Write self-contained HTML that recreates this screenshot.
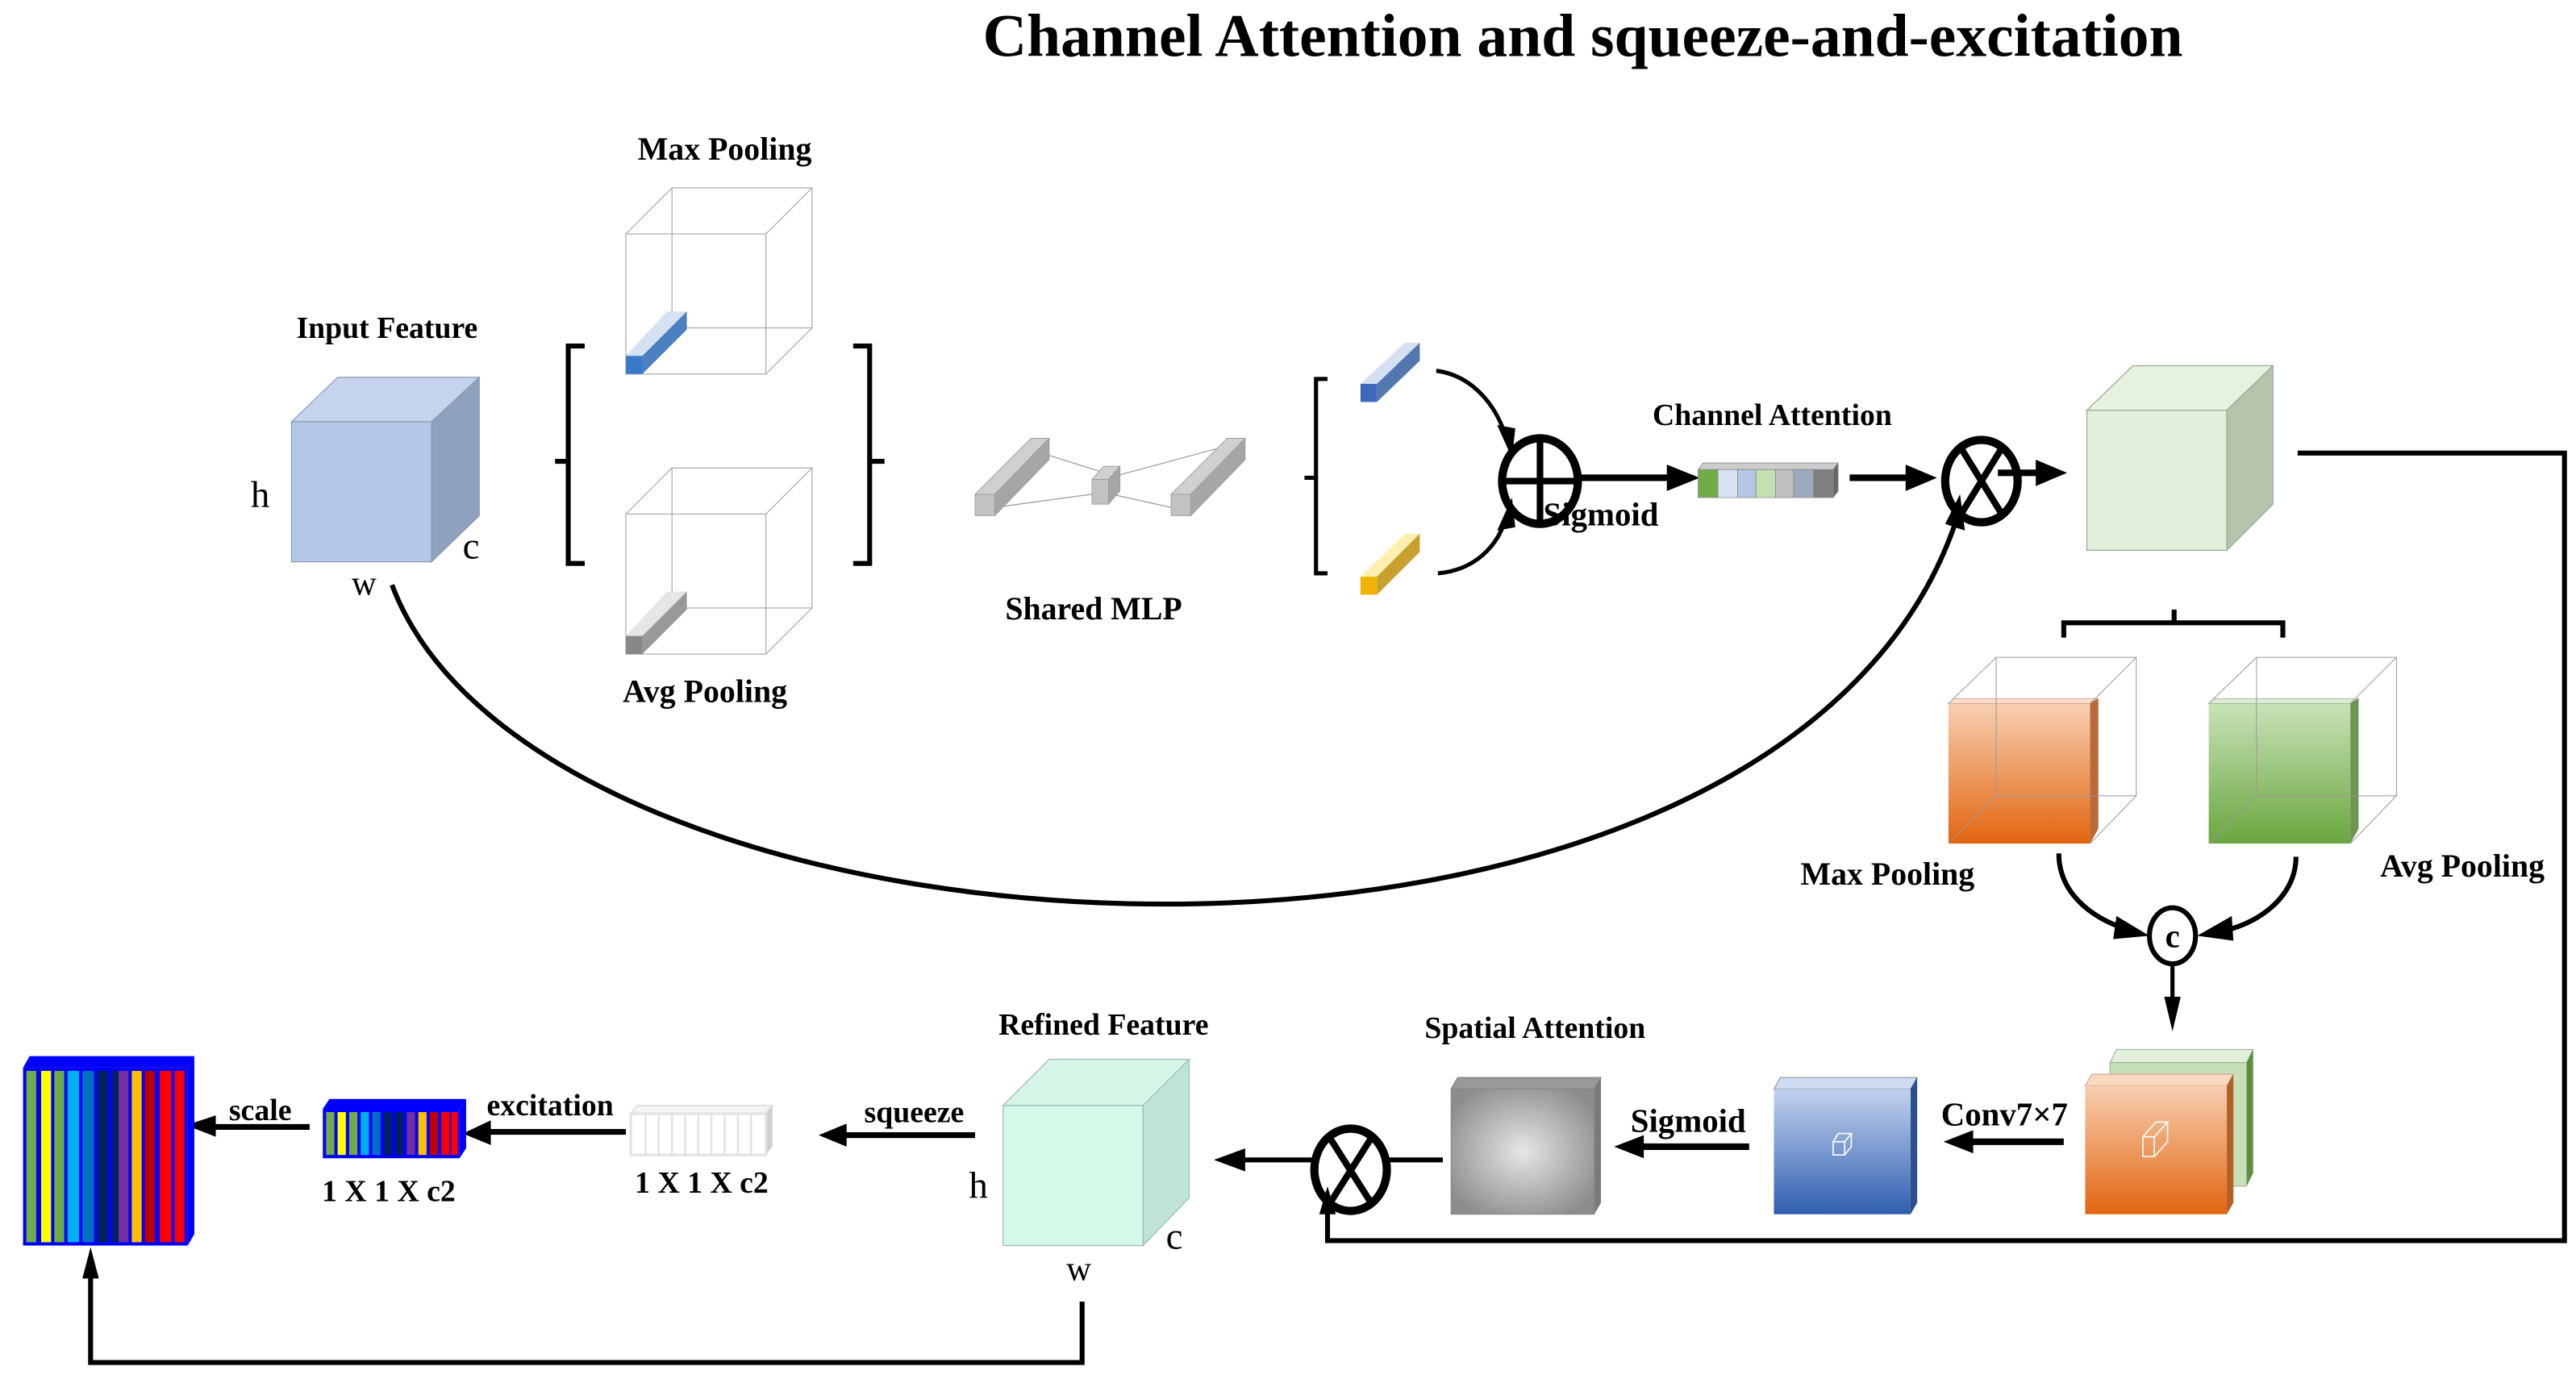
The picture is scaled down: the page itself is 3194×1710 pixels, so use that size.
<!DOCTYPE html>
<html><head><meta charset="utf-8"><style>
html,body{margin:0;padding:0;background:#fff;}
svg{display:block;}
text{font-family:"Liberation Serif",serif;font-weight:bold;fill:#000;}
.n{font-weight:normal;}
</style></head><body>
<svg width="3194" height="1710" viewBox="0 0 1564 837" preserveAspectRatio="none" xmlns="http://www.w3.org/2000/svg">
<defs>
<linearGradient id="gOr" x1="0" y1="0" x2="0" y2="1"><stop offset="0" stop-color="#f8cfb2"/><stop offset="1" stop-color="#e26510"/></linearGradient>
<linearGradient id="gGr" x1="0" y1="0" x2="0" y2="1"><stop offset="0" stop-color="#c9e2b8"/><stop offset="1" stop-color="#6aa63f"/></linearGradient>
<linearGradient id="gBl" x1="0" y1="0" x2="0" y2="1"><stop offset="0" stop-color="#c3d2ee"/><stop offset="1" stop-color="#2f5eb0"/></linearGradient>
<radialGradient id="gGy" cx="0.5" cy="0.5" r="0.6"><stop offset="0" stop-color="#e6e6e6"/><stop offset="1" stop-color="#8c8c8c"/></radialGradient>
</defs>

<text x="961" y="34" font-size="37" text-anchor="middle">Channel Attention and squeeze-and-excitation</text>

<!-- Input feature cube -->
<polygon points="177,256 205,229 291,229 262,256" fill="#c5d4ec" stroke="#8a9ab3" stroke-width="0.6"/>
<polygon points="262,256 291,229 291,313 262,341" fill="#8fa2bd" stroke="#8a9ab3" stroke-width="0.6"/>
<rect x="177" y="256" width="85" height="85" fill="#b4c7e7" stroke="#8a9ab3" stroke-width="0.6"/>
<text x="235" y="205" font-size="18.5" text-anchor="middle">Input Feature</text>
<text x="158" y="308" font-size="23" class="n" text-anchor="middle">h</text>
<text x="286" y="339" font-size="23" class="n" text-anchor="middle">c</text>
<text x="221" y="361" font-size="21" class="n" text-anchor="middle">w</text>

<!-- brackets -->
<path d="M355,210 H345 V342 H355 M345,280 H337" fill="none" stroke="#000" stroke-width="3"/>
<path d="M518,210 H528 V342 H518 M528,280 H537" fill="none" stroke="#000" stroke-width="3"/>

<!-- pooling wireframes -->
<g fill="none" stroke="#aaa" stroke-width="0.6">
<rect x="380" y="142" width="85" height="85"/><rect x="408" y="114" width="85" height="85"/>
<path d="M380,142 L408,114 M465,142 L493,114 M465,227 L493,199 M380,227 L408,199"/>
<rect x="380" y="312" width="85" height="85"/><rect x="408" y="284" width="85" height="85"/>
<path d="M380,312 L408,284 M465,312 L493,284 M465,397 L493,369 M380,397 L408,369"/>
</g>
<polygon points="380,216 405,189 417,189 390,216" fill="#d5e2f3"/>
<polygon points="390,216 417,189 417,200 390,227" fill="#4a7fc0"/>
<rect x="380" y="216" width="10" height="11" fill="#3a78c8"/>
<polygon points="380,386 405,359 417,359 390,386" fill="#e6e6e6"/>
<polygon points="390,386 417,359 417,370 390,397" fill="#999"/>
<rect x="380" y="386" width="10" height="11" fill="#888"/>
<text x="440" y="97" font-size="19.5" text-anchor="middle">Max Pooling</text>
<text x="428" y="426" font-size="19.5" text-anchor="middle">Avg Pooling</text>

<!-- shared MLP -->
<g stroke="#999" stroke-width="0.6" fill="none">
<path d="M623,272 L677,289 L740,272 M604,308 L663,300 M675,300 L711,308"/>
</g>
<polygon points="592,300 626,266 637,266 604,300" fill="#d0d0d0" stroke="#999" stroke-width="0.4"/>
<polygon points="604,300 637,266 637,279 604,313" fill="#a6a6a6" stroke="#999" stroke-width="0.4"/>
<rect x="592" y="300" width="12" height="13" fill="#c2c2c2" stroke="#999" stroke-width="0.4"/>
<polygon points="663,291 670,283 680,283 673,291" fill="#d0d0d0" stroke="#999" stroke-width="0.4"/>
<polygon points="673,291 680,283 680,298 673,306" fill="#a6a6a6" stroke="#999" stroke-width="0.4"/>
<rect x="663" y="291" width="10" height="15" fill="#c2c2c2" stroke="#999" stroke-width="0.4"/>
<polygon points="711,300 745,266 756,266 723,300" fill="#d0d0d0" stroke="#999" stroke-width="0.4"/>
<polygon points="723,300 756,266 756,279 723,313" fill="#a6a6a6" stroke="#999" stroke-width="0.4"/>
<rect x="711" y="300" width="12" height="13" fill="#c2c2c2" stroke="#999" stroke-width="0.4"/>
<text x="664" y="376" font-size="19.5" text-anchor="middle">Shared MLP</text>

<!-- second bracket and bars -->
<path d="M806,230 H799 V348 H806 M799,290 H792" fill="none" stroke="#000" stroke-width="2.5"/>
<polygon points="826,233 853,208 862,208 836,233" fill="#d5e0f2"/>
<polygon points="836,233 862,208 862,219 836,244" fill="#5577b0"/>
<rect x="826" y="233" width="10" height="11" fill="#3c69bb"/>
<polygon points="826,350 853,324 862,324 836,350" fill="#fff0b0"/>
<polygon points="836,350 862,324 862,335 836,361" fill="#c8a030"/>
<rect x="826" y="350" width="10" height="11" fill="#f0b400"/>

<!-- curves into plus -->
<path d="M872,225 C895,228 910,248 915,268" fill="none" stroke="#000" stroke-width="2.5"/>
<polygon points="909,258 920,260 918,278" fill="#000"/>
<path d="M873,348 C895,346 910,332 915,312" fill="none" stroke="#000" stroke-width="2.5"/>
<polygon points="909,322 920,320 918,302" fill="#000"/>
<ellipse cx="935" cy="292" rx="23" ry="26" fill="none" stroke="#000" stroke-width="5"/>
<path d="M912,292 H958 M935,266 V318" stroke="#000" stroke-width="4"/>
<path d="M958,290 H1015" stroke="#000" stroke-width="4"/>
<polygon points="1012,282 1032,290 1012,298" fill="#000"/>
<text x="972" y="319" font-size="20" text-anchor="middle">Sigmoid</text>

<!-- channel attention vector -->
<text x="1076" y="258" font-size="18.5" text-anchor="middle">Channel Attention</text>
<g stroke="#888" stroke-width="0.4">
<polygon points="1031,285 1034,281 1116,281 1113,285" fill="#ccc"/>
<polygon points="1113,285 1116,281 1116,298 1113,302" fill="#666"/>
<rect x="1031" y="285" width="12" height="17" fill="#70ad47"/>
<rect x="1043" y="285" width="12" height="17" fill="#dae3f3"/>
<rect x="1055" y="285" width="11" height="17" fill="#b4c7e7"/>
<rect x="1066" y="285" width="12" height="17" fill="#c5e0b4"/>
<rect x="1078" y="285" width="11" height="17" fill="#bfbfbf"/>
<rect x="1089" y="285" width="12" height="17" fill="#9daabd"/>
<rect x="1101" y="285" width="12" height="17" fill="#7f7f7f"/>
</g>
<path d="M1123,290 H1160" stroke="#000" stroke-width="4"/>
<polygon points="1157,282 1176,290 1157,298" fill="#000"/>

<!-- otimes 1 -->
<ellipse cx="1203" cy="292" rx="22" ry="25" fill="none" stroke="#000" stroke-width="5"/>
<path d="M1190,271 L1216,313 M1216,271 L1190,313" stroke="#000" stroke-width="4"/>
<path d="M1213,287 H1240" stroke="#000" stroke-width="4"/>
<polygon points="1236,279 1255,287 1236,295" fill="#000"/>

<!-- green cube -->
<polygon points="1267,249 1295,222 1380,222 1352,249" fill="#e6f1df" stroke="#9aa894" stroke-width="0.6"/>
<polygon points="1352,249 1380,222 1380,306 1352,334" fill="#b5c4ac" stroke="#9aa894" stroke-width="0.6"/>
<rect x="1267" y="249" width="85" height="85" fill="#e2efda" stroke="#9aa894" stroke-width="0.6"/>

<!-- right loop line -->
<path d="M1395,275 H1557 V753 H806 V730" fill="none" stroke="#000" stroke-width="3"/>
<polygon points="801,737 806,720 811,737" fill="#000"/>

<!-- big curve -->
<path d="M238,355 C330,600 1080,640 1188,315" fill="none" stroke="#000" stroke-width="3"/>
<polygon points="1181,318 1190,300 1193,322" fill="#000"/>

<!-- bracket under green cube -->
<path d="M1253,387 V378 H1386 V387 M1320,378 V370" fill="none" stroke="#000" stroke-width="3"/>

<!-- orange pooled box -->
<rect x="1183" y="427" width="86" height="85" fill="url(#gOr)"/>
<polygon points="1183,427 1186,424 1274,424 1269,427" fill="#fbdcc7" stroke="#c99" stroke-width="0.4"/>
<polygon points="1269,427 1274,424 1274,503 1269,512" fill="#b96a3a"/>
<g fill="none" stroke="#999" stroke-width="0.5">
<rect x="1212" y="399" width="85" height="84"/>
<path d="M1183,427 L1212,399 M1297,399 L1269,427 M1297,483 L1269,512 M1183,512 L1212,483"/>
</g>
<rect x="1341" y="427" width="86" height="85" fill="url(#gGr)"/>
<polygon points="1341,427 1344,424 1432,424 1427,427" fill="#dcebd2" stroke="#9a9" stroke-width="0.4"/>
<polygon points="1427,427 1432,424 1432,503 1427,512" fill="#6d9450"/>
<g fill="none" stroke="#999" stroke-width="0.5">
<rect x="1370" y="399" width="85" height="84"/>
<path d="M1341,427 L1370,399 M1455,399 L1427,427 M1455,483 L1427,512 M1341,512 L1370,483"/>
</g>
<text x="1146" y="537" font-size="19.5" text-anchor="middle">Max Pooling</text>
<text x="1495" y="532" font-size="19.5" text-anchor="middle">Avg Pooling</text>

<!-- curves to c -->
<path d="M1250,518 C1250,545 1275,560 1295,565" fill="none" stroke="#000" stroke-width="3"/>
<polygon points="1285,556 1305,568 1283,570" fill="#000"/>
<path d="M1394,520 C1394,545 1370,562 1345,566" fill="none" stroke="#000" stroke-width="3"/>
<polygon points="1355,556 1334,568 1356,571" fill="#000"/>
<ellipse cx="1319" cy="568" rx="14" ry="17" fill="#fff" stroke="#000" stroke-width="3"/>
<text x="1319" y="575" font-size="20" text-anchor="middle">c</text>
<path d="M1319,585 V610" stroke="#000" stroke-width="2.5"/>
<polygon points="1314,605 1319,626 1324,605" fill="#000"/>

<!-- stacked boxes -->
<polygon points="1281,645 1285,637 1368,637 1364,645" fill="#e2efda" stroke="#9a9" stroke-width="0.5"/>
<polygon points="1364,645 1368,637 1368,712 1364,720" fill="#5e8f3e"/>
<rect x="1281" y="645" width="83" height="75" fill="#c8e0b8" stroke="#9a9" stroke-width="0.5"/>
<polygon points="1266,659 1270,652 1356,652 1352,659" fill="#fbd8c0" stroke="#c99" stroke-width="0.5"/>
<polygon points="1352,659 1356,652 1356,730 1352,737" fill="#b55f28"/>
<rect x="1266" y="659" width="86" height="78" fill="url(#gOr)"/>
<g fill="none" stroke="#fff" stroke-width="0.8"><rect x="1301" y="690" width="7" height="12"/><path d="M1301,690 L1309,681 H1316 L1308,690 M1316,681 V693 L1308,702"/></g>

<path d="M1253,693 H1195" stroke="#000" stroke-width="4"/>
<polygon points="1198,686 1180,693 1198,700" fill="#000"/>
<text x="1217" y="683" font-size="20" text-anchor="middle">Conv7×7</text>

<!-- blue box -->
<polygon points="1077,661 1081,654 1164,654 1160,661" fill="#cfdcf2" stroke="#889" stroke-width="0.5"/>
<polygon points="1160,661 1164,654 1164,730 1160,737" fill="#2d4f8e"/>
<rect x="1077" y="661" width="83" height="76" fill="url(#gBl)"/>
<g fill="none" stroke="#fff" stroke-width="0.8"><rect x="1113" y="693" width="7" height="8"/><path d="M1113,693 L1116,688 H1124 L1120,693 M1124,688 V696 L1120,701"/></g>
<path d="M1062,696 H995" stroke="#000" stroke-width="4"/>
<polygon points="998,689 980,696 998,703" fill="#000"/>
<text x="1025" y="687" font-size="20" text-anchor="middle">Sigmoid</text>

<!-- gray box -->
<polygon points="881,661 885,654 972,654 968,661" fill="#999" stroke="#777" stroke-width="0.5"/>
<polygon points="968,661 972,654 972,730 968,737" fill="#7a7a7a"/>
<rect x="881" y="661" width="87" height="76" fill="url(#gGy)" stroke="#888" stroke-width="0.5"/>
<text x="932" y="630" font-size="18.5" text-anchor="middle">Spatial Attention</text>

<!-- otimes 2 -->
<path d="M876,704 H842" stroke="#000" stroke-width="3"/>
<ellipse cx="820" cy="710" rx="22" ry="25" fill="none" stroke="#000" stroke-width="5"/>
<path d="M807,690 L833,731 M833,690 L807,731" stroke="#000" stroke-width="4"/>
<path d="M798,704 H755" stroke="#000" stroke-width="3"/>
<polygon points="756,697 737,704 756,711" fill="#000"/>

<!-- refined feature cube -->
<polygon points="609,671 637,643 722,643 694,671" fill="#d6f7e8" stroke="#9bb" stroke-width="0.6"/>
<polygon points="694,671 722,643 722,727 694,756" fill="#bfe3d4" stroke="#9bb" stroke-width="0.6"/>
<rect x="609" y="671" width="85" height="85" fill="#d3f9e8" stroke="#9bb" stroke-width="0.6"/>
<text x="670" y="628" font-size="18.5" text-anchor="middle">Refined Feature</text>
<text x="594" y="727" font-size="23" class="n" text-anchor="middle">h</text>
<text x="713" y="758" font-size="23" class="n" text-anchor="middle">c</text>
<text x="655" y="777" font-size="21" class="n" text-anchor="middle">w</text>

<path d="M657,790 V827 H55 V772" fill="none" stroke="#000" stroke-width="3"/>
<polygon points="50,776 55,757 60,776" fill="#000"/>

<!-- squeeze -->
<path d="M592,689 H512" stroke="#000" stroke-width="3.5"/>
<polygon points="514,682 497,689 514,696" fill="#000"/>
<text x="555" y="681" font-size="18.5" text-anchor="middle">squeeze</text>

<!-- white vector block -->
<polygon points="383,676 387,671 469,671 465,676" fill="#f4f4f4" stroke="#e0e0e0" stroke-width="1"/>
<polygon points="465,676 469,671 469,696 465,701" fill="#d0d0d0"/>
<rect x="383" y="676" width="82" height="25" fill="#fff" stroke="#e2e2e2" stroke-width="1.5"/>
<g stroke="#e2e2e2" stroke-width="1.2"><path d="M392,676V701 M400,676V701 M408,676V701 M416,676V701 M424,676V701 M432,676V701 M440,676V701 M448,676V701 M456,676V701"/></g>
<text x="426" y="724" font-size="18.5" text-anchor="middle">1 X 1 X c2</text>

<!-- excitation -->
<path d="M380,687 H296" stroke="#000" stroke-width="3.5"/>
<polygon points="298,680 281,688 298,695" fill="#000"/>
<text x="334" y="677" font-size="18.5" text-anchor="middle">excitation</text>

<!-- colored small block -->
<g>
<polygon points="196,673 200,667 283,667 279,673" fill="#0000ff"/>
<polygon points="279,673 283,667 283,697 279,703" fill="#0000ff"/>
<rect x="196" y="673" width="83" height="30" fill="#0000ff"/>
<rect x="198" y="675" width="5" height="26" fill="#70ad47"/>
<rect x="205" y="675" width="5" height="26" fill="#ffff00"/>
<rect x="212" y="675" width="5" height="26" fill="#70ad47"/>
<rect x="219" y="675" width="5" height="26" fill="#00b0f0"/>
<rect x="226" y="675" width="5" height="26" fill="#0070c0"/>
<rect x="233" y="675" width="5" height="26" fill="#002060"/>
<rect x="240" y="675" width="5" height="26" fill="#002060"/>
<rect x="247" y="675" width="5" height="26" fill="#7030a0"/>
<rect x="254" y="675" width="5" height="26" fill="#ffc000"/>
<rect x="261" y="675" width="5" height="26" fill="#c00000"/>
<rect x="268" y="675" width="5" height="26" fill="#ff0000"/>
<rect x="274" y="675" width="4" height="26" fill="#ff0000"/>
</g>
<text x="236" y="729" font-size="18.5" text-anchor="middle">1 X 1 X c2</text>

<!-- scale -->
<path d="M188,684 H128" stroke="#000" stroke-width="3.5"/>
<polygon points="131,677 113,683 131,690" fill="#000"/>
<text x="158" y="680" font-size="18.5" text-anchor="middle">scale</text>

<!-- big colored block -->
<g>
<polygon points="14,648 18,641 118,641 114,648" fill="#0000ff"/>
<polygon points="114,648 118,641 118,749 114,756" fill="#0000ff"/>
<rect x="14" y="648" width="100" height="108" fill="#0000ff"/>
<rect x="16" y="650" width="6" height="104" fill="#70ad47"/>
<rect x="25" y="650" width="6" height="104" fill="#ffff00"/>
<rect x="33" y="650" width="6" height="104" fill="#70ad47"/>
<rect x="41" y="650" width="7" height="104" fill="#00b0f0"/>
<rect x="50" y="650" width="7" height="104" fill="#0070c0"/>
<rect x="59" y="650" width="7" height="104" fill="#002060"/>
<rect x="68" y="650" width="6" height="104" fill="#002060"/>
<rect x="72" y="650" width="6" height="104" fill="#7030a0"/>
<rect x="80" y="650" width="6" height="104" fill="#ffc000"/>
<rect x="88" y="650" width="6" height="104" fill="#c00000"/>
<rect x="97" y="650" width="7" height="104" fill="#ff0000"/>
<rect x="106" y="650" width="6" height="104" fill="#ff0000"/>
</g>
</svg>
</body></html>
